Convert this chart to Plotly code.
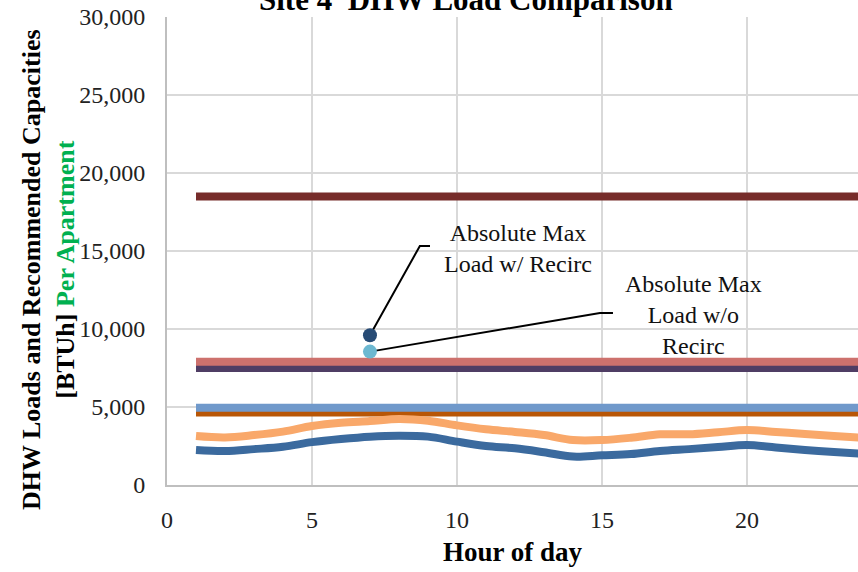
import plotly.graph_objects as go

hours = list(range(1, 25))
load_w_recirc = [2250, 2180, 2300, 2450, 2750, 2950, 3100, 3160, 3100, 2780, 2500, 2350,
                 2100, 1820, 1900, 1980, 2180, 2300, 2430, 2560, 2400, 2240, 2110, 2000]
load_wo_recirc = [3140, 3050, 3200, 3420, 3780, 3990, 4100, 4230, 4120, 3820, 3570, 3400,
                  3200, 2880, 2880, 3030, 3250, 3250, 3380, 3520, 3400, 3270, 3140, 3030]
cap_levels = {
    "cap_a": 18500,
    "cap_purple": 7500,
    "cap_salmon": 7900,
    "cap_orange": 4650,
    "cap_lightblue": 4950,
}
max_hour = 7
max_w_recirc = 9600
max_wo_recirc = 8550

FONT = "Liberation Serif"

fig = go.Figure()

def hline(val, color):
    fig.add_trace(go.Scatter(x=hours, y=[val] * len(hours), mode="lines",
                             line=dict(color=color, width=8), showlegend=False,
                             hoverinfo="skip"))

hline(cap_levels["cap_a"], "#772C2A")
hline(cap_levels["cap_purple"], "#4F3D64")
hline(cap_levels["cap_salmon"], "#CD716D")
hline(cap_levels["cap_orange"], "#B85606")
hline(cap_levels["cap_lightblue"], "#7099CB")

fig.add_trace(go.Scatter(x=hours, y=load_wo_recirc, mode="lines", line_shape="spline",
                         line=dict(color="#F9A86A", width=8), showlegend=False))
fig.add_trace(go.Scatter(x=hours, y=load_w_recirc, mode="lines", line_shape="spline",
                         line=dict(color="#3B6A9E", width=8), showlegend=False))

# leader lines
fig.add_trace(go.Scatter(x=[max_hour, 8.72, 9.07], y=[max_w_recirc, 15320, 15320], mode="lines",
                         line=dict(color="black", width=2), showlegend=False))
fig.add_trace(go.Scatter(x=[max_hour, 14.93, 15.38], y=[max_wo_recirc, 11030, 11030], mode="lines",
                         line=dict(color="black", width=2), showlegend=False))

fig.add_trace(go.Scatter(x=[max_hour], y=[max_w_recirc], mode="markers",
                         marker=dict(color="#274B75", size=14), showlegend=False))
fig.add_trace(go.Scatter(x=[max_hour], y=[max_wo_recirc], mode="markers",
                         marker=dict(color="#6CB8D1", size=14), showlegend=False))

fig.add_annotation(x=12.1, y=15130, text="Absolute Max<br>Load w/ Recirc", showarrow=False,
                   font=dict(family=FONT, size=24, color="#111111"), align="center")
fig.add_annotation(x=18.14, y=10900, text="Absolute Max<br>Load w/o<br>Recirc", showarrow=False,
                   font=dict(family=FONT, size=24, color="#111111"), align="center")

plot_w = 858 - 167
plot_h = 572 - 17 - 87
fig.add_annotation(x=(466 - 167) / plot_w, y=1 + 17 / plot_h, xref="paper", yref="paper",
                   text="<b>Site 4  DHW Load Comparison</b>",
                   showarrow=False, font=dict(family=FONT, size=31, color="black"),
                   xanchor="center", yanchor="middle")

# y-axis title as a rotated annotation
fig.add_annotation(x=(48 - 167) / plot_w, y=1 - (270 - 17) / plot_h, xref="paper", yref="paper",
                   text="<b>DHW Loads and Recommended Capacities<br>[BTUh] <span style='color:#00B050'>Per Apartment</span></b>",
                   showarrow=False, textangle=-90, align="center",
                   font=dict(family=FONT, size=26, color="black"),
                   xanchor="center", yanchor="middle")

tickfont = dict(family=FONT, size=24, color="#222222")

fig.update_layout(
    width=858, height=572,
    margin=dict(l=167, r=0, t=17, b=87),
    plot_bgcolor="white", paper_bgcolor="white",
    font=dict(family=FONT, size=24, color="#222222"),
    xaxis=dict(range=[0, 23.83], tickvals=[0, 5, 10, 15, 20], showgrid=True,
               gridcolor="#D9D9D9", gridwidth=1.5, showline=True, linecolor="#BFBFBF",
               linewidth=2, zeroline=False, ticks="", ticklabelstandoff=12, tickfont=tickfont,
               title=dict(text="<b>Hour of day</b>", font=dict(family=FONT, size=27, color="black"),
                          standoff=10)),
    yaxis=dict(range=[0, 30000], tickvals=[0, 5000, 10000, 15000, 20000, 25000, 30000],
               tickformat=",d", showgrid=True, gridcolor="#D9D9D9", gridwidth=1.5,
               showline=True, linecolor="#BFBFBF", linewidth=2, zeroline=False, ticks="",
               ticklabelstandoff=15, tickfont=tickfont),
)

fig.write_html("out.html")
